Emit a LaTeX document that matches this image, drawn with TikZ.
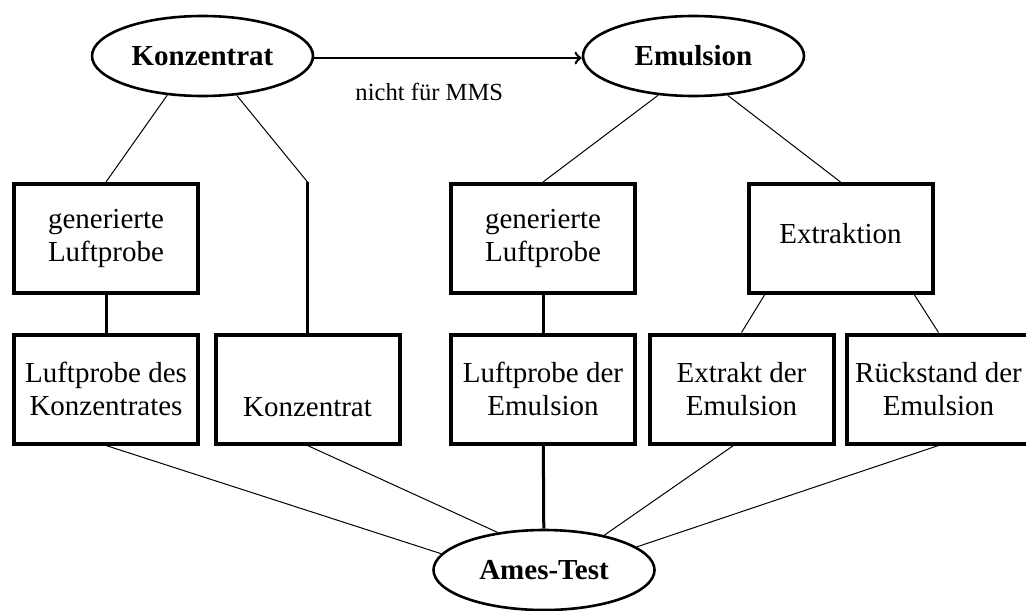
\documentclass[tikz,border=0pt]{standalone}
\usepackage{fontspec}
\setmainfont{Liberation Serif}
\usetikzlibrary{positioning}
\usetikzlibrary{positioning,shapes}

\begin{document}
\begin{tikzpicture}[x=0.5pt,y=-0.5pt,
    kasten/.style={draw,rectangle,line width=2pt,minimum width=92pt,minimum height=54.5pt,inner sep=0pt,align=center,font=\fontsize{14.5}{16.5}\selectfont},
    oval/.style={draw,ellipse,line width=1.3pt,minimum width=110.5pt,minimum height=40pt,inner sep=0pt,font=\fontsize{14.5}{16.5}\selectfont\bfseries},
    duenn/.style={line width=0.5pt},
    dick/.style={line width=1.5pt}]

\useasboundingbox (0,0) rectangle (1026,610);

% Ausgangsmaterial
\node[oval] (konz) at (202.5,56) {Konzentrat};
\node[oval] (emul) at (693.5,56) {Emulsion};
\draw[line width=1.3pt,->] ([yshift=-1pt]konz.east) -- ([yshift=-1pt]emul.west)
    node[below=12pt,pos=0.43,inner sep=0pt,font=\fontsize{12.3}{14}\selectfont] (mms) {nicht für MMS};

% erste Reihe
\node[kasten] (genK) at (106,238.5) {generierte\\Luftprobe};
\node[kasten] (genE) at (543,238.5) {generierte\\Luftprobe};
\node[kasten] (extr) at (840.5,238.5) {\raisebox{5.5pt}{Extraktion}};

% zweite Reihe
\node[kasten] (luftK) at (106,389) {Luftprobe des\\Konzentrates};
\node[kasten] (konzB) at (307.5,389) {\strut\\Konzentrat};
\node[kasten] (luftE) at (543,389) {Luftprobe der\\Emulsion};
\node[kasten] (extrakt) at (741.5,389) {Extrakt der\\Emulsion};
\node[kasten] (rueck) at (938.5,389) {Rückstand der\\Emulsion};

\node[oval] (ames) at (544,570) {Ames-Test};

\coordinate (knick) at (konzB.north |- genK.north);

\draw[duenn] (konz.228) -- (genK.north);
\draw[duenn] (konz.311.6) -- (knick);
\draw[dick] (knick) -- (konzB.north);
\draw[dick] (genK) -- (luftK);
\draw[duenn] (emul.228) -- (genE.north);
\draw[duenn] (emul.311) -- (extr.north);
\draw[dick] (genE) -- (luftE);
\draw[duenn] ([xshift=9pt]extr.south west) -- (extrakt.north);
\draw[duenn] ([xshift=-10pt]extr.south east) -- (rueck.north);

\foreach \von/\winkel in {luftK.south/171.5, konzB.south/141.5, rueck.south/14.2} {
    \draw[duenn] (\von) -- (ames.\winkel);
}
\draw[duenn] ([xshift=-4pt]extrakt.south) -- (ames.30);
\draw[dick] (luftE) -- (ames);
\end{tikzpicture}
\end{document}
